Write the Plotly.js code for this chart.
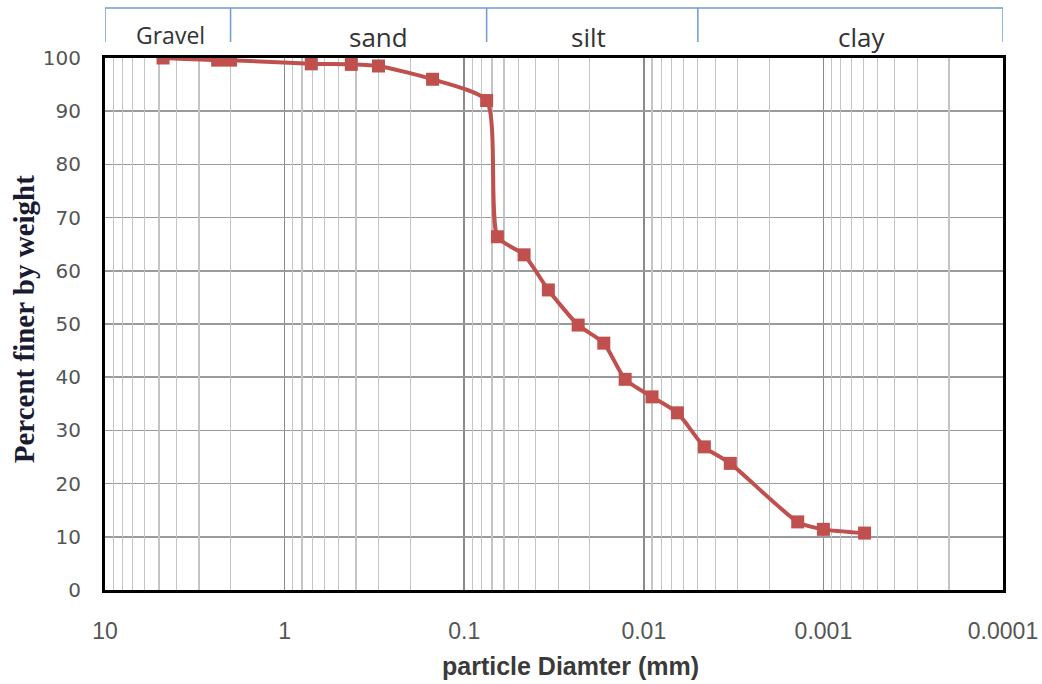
<!DOCTYPE html>
<html>
<head>
<meta charset="utf-8">
<script src="https://cdn.plot.ly/plotly-3.0.1.min.js"></script>
<style>html,body{margin:0;padding:0;background:#fff;}#chart{width:1042px;height:684px;}</style>
</head>
<body>
<div id="chart"></div>
<script>
// Particle diameter (mm) and percent finer
const diameter = [4.75, 2.36, 2.0, 0.71, 0.425, 0.30, 0.15, 0.075, 0.0653, 0.0464, 0.034, 0.0232, 0.0167, 0.0127, 0.0090, 0.0065, 0.0046, 0.0033, 0.00139, 0.0010, 0.00059];
const percentFiner = [100, 99.6, 99.6, 98.9, 98.8, 98.5, 96.0, 92.0, 66.4, 63.0, 56.4, 49.8, 46.4, 39.6, 36.3, 33.3, 26.9, 23.8, 12.8, 11.4, 10.7];

// Soil classification band
const bandBounds = [10, 2, 0.075, 0.005, 0.0001];
const bandLabels = ["Gravel", "sand", "silt", "clay"];
const bandLabelPos = [4.3, 0.30, 0.0202, 0.00061];

const xTickVals = [10, 1, 0.1, 0.01, 0.001, 0.0001];
const xTickText = ["10", "1", "0.1", "0.01", "0.001", "0.0001"];

const xTitle = "particle Diamter (mm)";
const yTitle = "Percent finer by weight";

// minor grid values 2..9 in each decade
const minorVals = [];
for (let e = -4; e < 1; e++) {
  for (let m = 2; m <= 9; m++) minorVals.push(m * Math.pow(10, e));
}

const bandColor = '#6f9bd6';
const shapes = [];
shapes.push({type:'line', xref:'x', yref:'paper', x0:bandBounds[0], x1:bandBounds[bandBounds.length-1], y0:1.094, y1:1.094, line:{color:bandColor, width:1.5}});
bandBounds.forEach(b => {
  shapes.push({type:'line', xref:'x', yref:'paper', x0:b, x1:b, y0:1.094, y1:1.030, line:{color:bandColor, width:1.5}});
});

const annotations = bandLabels.map((t, i) => ({
  text: t, xref:'x', yref:'paper', x: Math.log10(bandLabelPos[i]), y: i === 0 ? 1.043 : 1.039,
  showarrow:false, xanchor:'center', yanchor:'middle',
  font:{family:'"Open Sans", sans-serif', size: i === 0 ? 23 : 26, color:'#333'}
}));
annotations.push({
  text:'<b>' + xTitle + '</b>', xref:'paper', yref:'paper', x:0.518, y:-0.143,
  showarrow:false, xanchor:'center', yanchor:'middle',
  font:{family:'"Liberation Sans", Arial, sans-serif', size:25, color:'#3a3a3a'}
});
annotations.push({
  text:'<b>' + yTitle + '</b>', xref:'paper', yref:'paper', x:-0.0902, y:0.509, textangle:-90,
  showarrow:false, xanchor:'center', yanchor:'middle',
  font:{family:'"Liberation Serif", "Times New Roman", serif', size:29, color:'#1a1a33'}
});

const traces = [
  {
    x: minorVals, y: minorVals.map(() => null), xaxis:'x2', yaxis:'y', mode:'lines', showlegend:false, hoverinfo:'skip'
  },
  {
    x: diameter, y: percentFiner, mode:'lines+markers', type:'scatter',
    line:{color:'#C0504D', width:4, shape:'spline', smoothing:0.6},
    marker:{symbol:'square', size:13, color:'#C0504D'},
    showlegend:false
  }
];

const layout = {
  width:1042, height:684,
  margin:{l:105, r:39, t:58, b:94},
  paper_bgcolor:'#fff', plot_bgcolor:'#fff',
  showlegend:false,
  xaxis:{
    type:'log', range:[1, -4], autorange:false,
    tickvals:xTickVals, ticktext:xTickText,
    showgrid:true, gridcolor:'#8a8a8a', gridwidth:1.5,
    showline:true, linecolor:'#000', linewidth:3, mirror:true,
    ticks:'', ticklabelstandoff:18,
    tickfont:{family:'"Liberation Sans", sans-serif', size:23, color:'#555'},
    zeroline:false
  },
  xaxis2:{
    type:'log', range:[1, -4], autorange:false, overlaying:'x', anchor:'y',
    tickvals:minorVals, showticklabels:false, ticks:'',
    showgrid:true, gridcolor:'#c4c4c4', gridwidth:1.2, showline:false, zeroline:false
  },
  yaxis:{
    range:[0, 100], autorange:false, dtick:10,
    showgrid:true, gridcolor:'#9a9a9a', gridwidth:1.5,
    showline:true, linecolor:'#000', linewidth:3, mirror:true,
    ticks:'', ticklabelstandoff:17,
    tickfont:{family:'"DejaVu Sans", Verdana, sans-serif', size:20, color:'#555'},
    zeroline:false
  },
  shapes:shapes,
  annotations:annotations
};

Plotly.newPlot('chart', traces, layout, {displayModeBar:false, staticPlot:true});
</script>
</body>
</html>
